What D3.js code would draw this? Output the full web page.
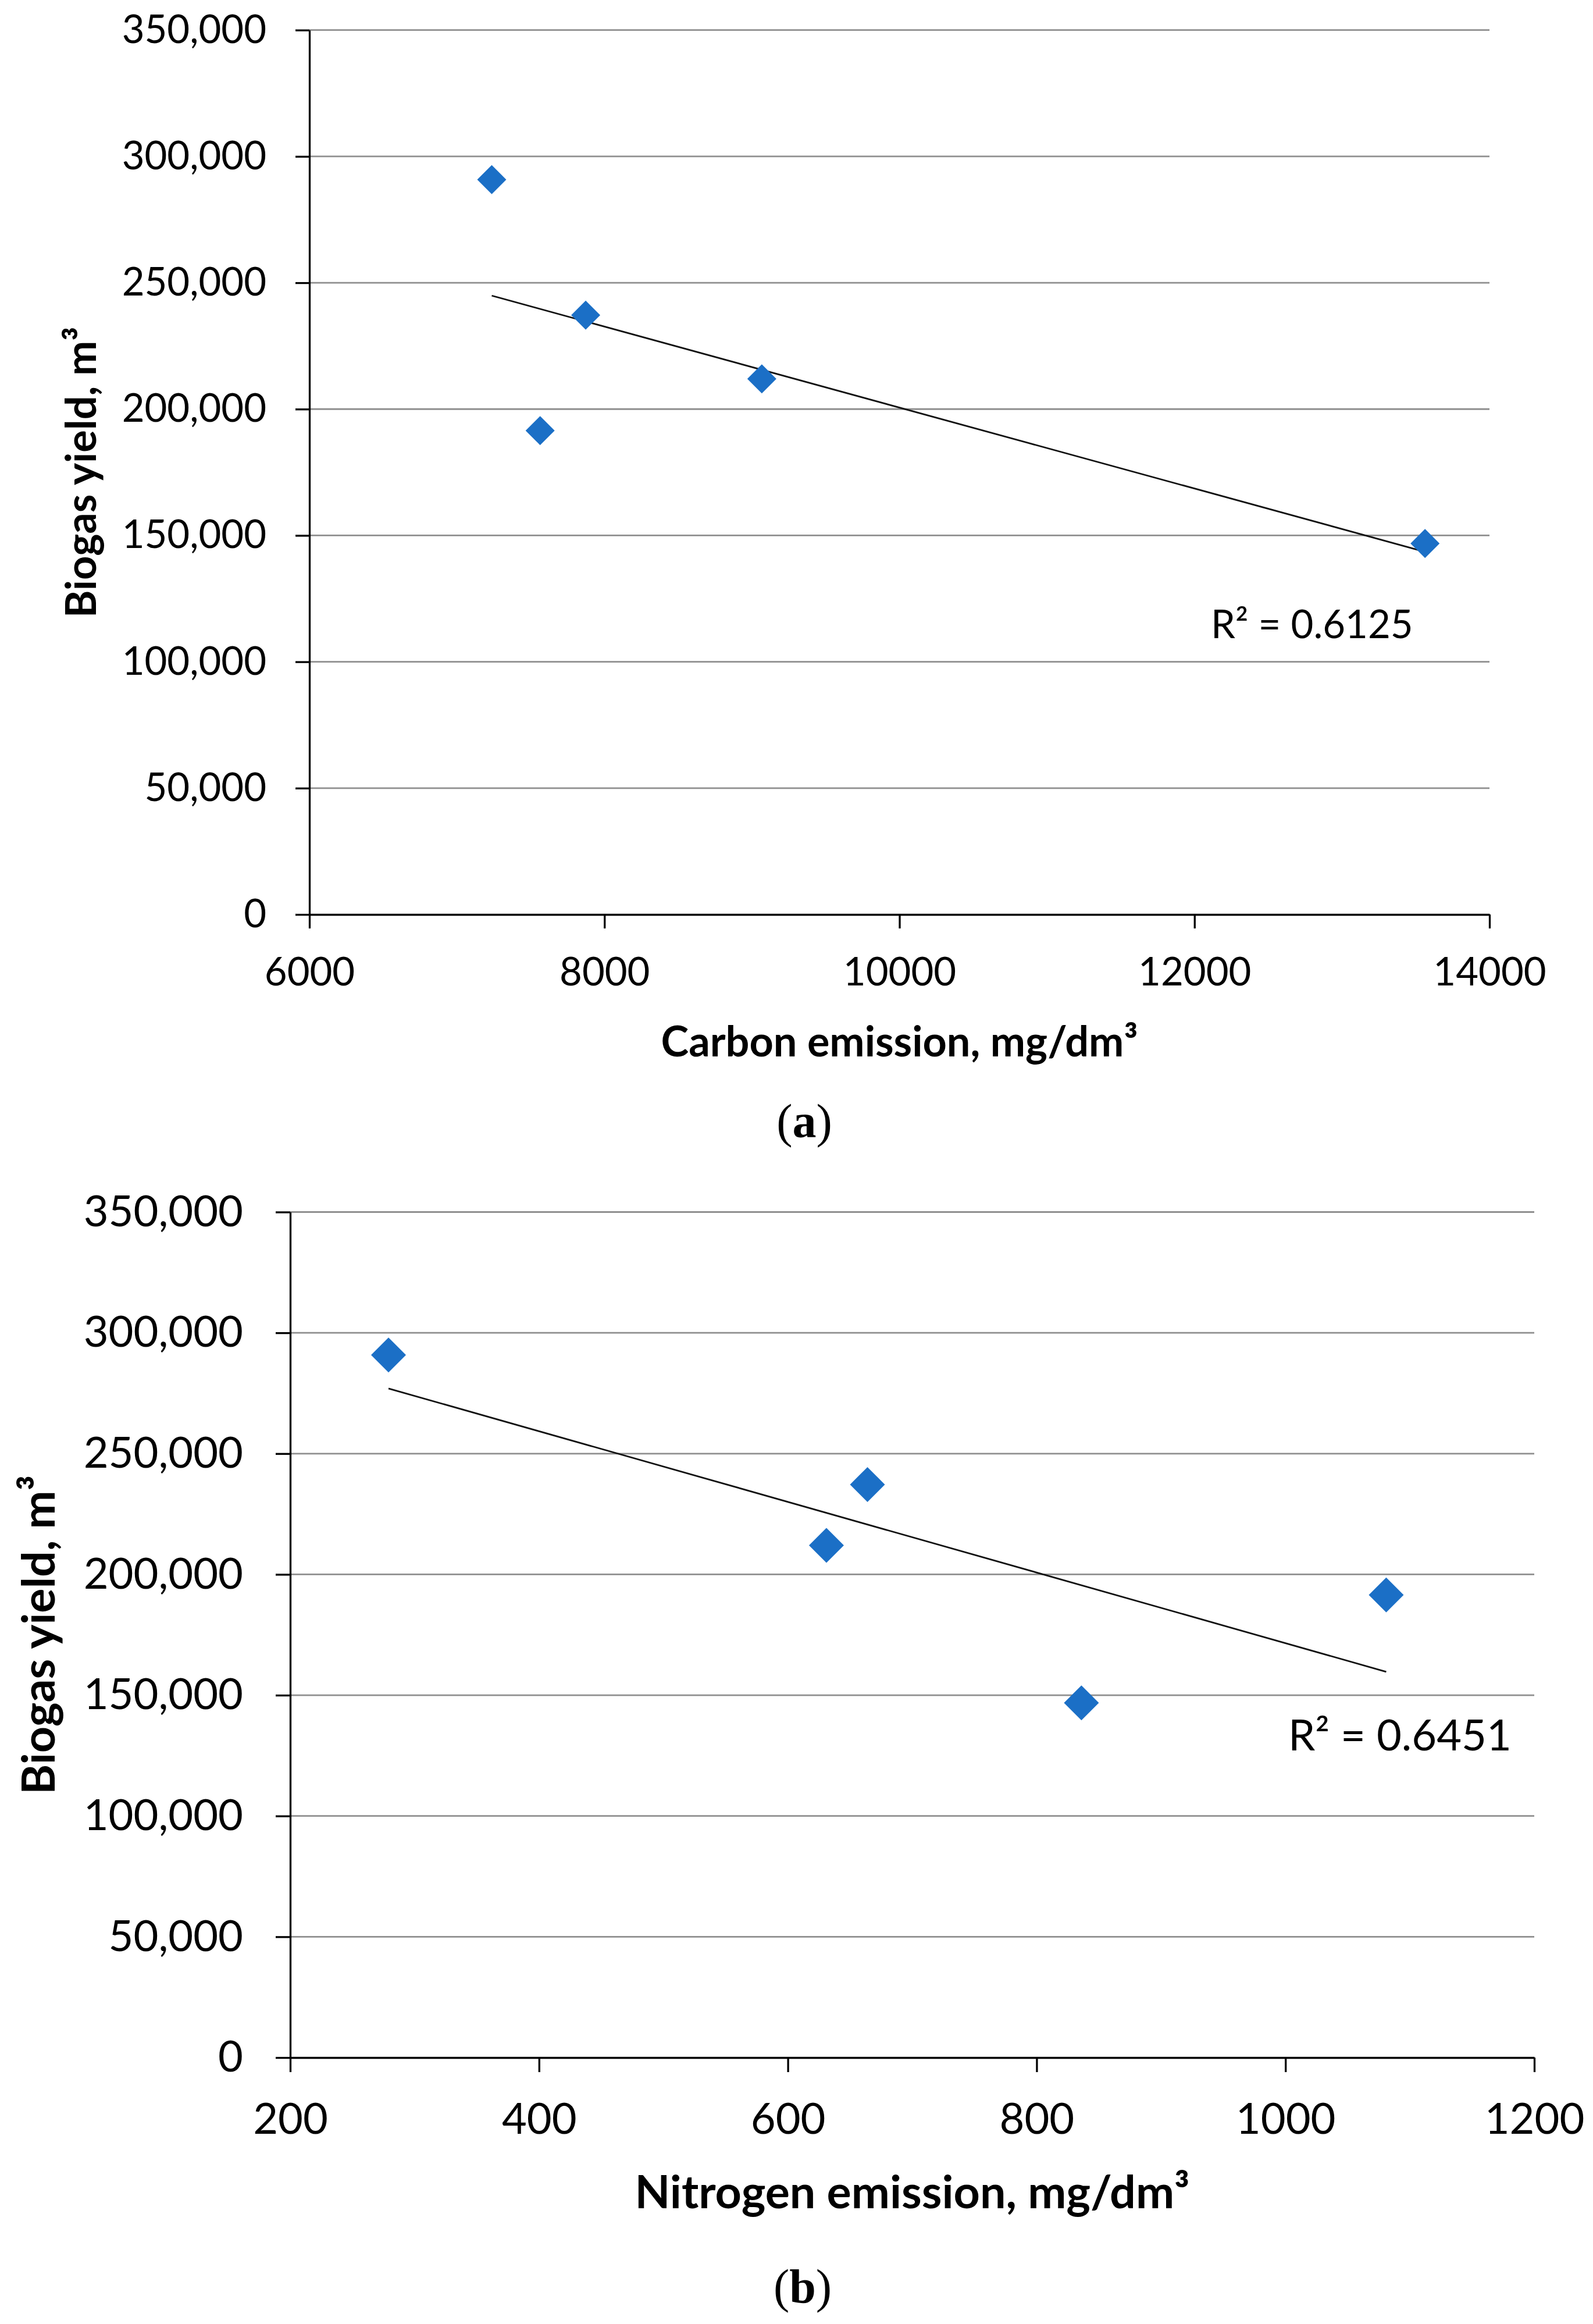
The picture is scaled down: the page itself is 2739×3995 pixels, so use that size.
<!DOCTYPE html>
<html>
<head>
<meta charset="utf-8">
<script src="https://cdn.jsdelivr.net/npm/d3@7"></script>
<style>
  body { margin: 0; background: #fff; }
  svg { display: block; }
</style>
</head>
<body>
<div id="chart"></div>
<script>
// values (same five samples in both panels)
const biogasYield = [290800, 191500, 237200, 212000, 146800];
const carbonEmission = [7236, 7564, 7873, 9067, 13563];
const nitrogenEmission = [279, 1081, 664, 631, 836];

const yTicks = [0, 50000, 100000, 150000, 200000, 250000, 300000, 350000];
const carbonTicks = [6000, 8000, 10000, 12000, 14000];
const nitrogenTicks = [200, 400, 600, 800, 1000, 1200];

const yTitle = "Biogas yield, m³";
const xTitles = ["Carbon emission, mg/dm³", "Nitrogen emission, mg/dm³"];
const r2Labels = ["R² = 0.6125", "R² = 0.6451"];
const captions = ["a", "b"];

const width = 2739;
const height = 3995;
const blue = "#1b6fc6";
const grid = "#8f8f8f";

const svg = d3.select("#chart").append("svg")
  .attr("width", width)
  .attr("height", height);

function fit(xs, ys) {
  const mx = d3.mean(xs), my = d3.mean(ys);
  let sxy = 0, sxx = 0;
  xs.forEach((x, i) => {
    sxy += (x - mx) * (ys[i] - my);
    sxx += (x - mx) * (x - mx);
  });
  const slope = sxy / sxx;
  return x => my + slope * (x - mx);
}

function panel(p) {
  const g = svg.append("g");
  const x = d3.scaleLinear().domain(d3.extent(p.xTicks)).range([p.left, p.right]);
  const y = d3.scaleLinear().domain([0, 350000]).range([p.bottom, p.top]);

  // gridlines
  g.append("g").selectAll("line")
    .data(yTicks.filter(d => d > 0))
    .join("line")
    .attr("x1", p.left).attr("x2", p.right)
    .attr("y1", d => y(d)).attr("y2", d => y(d))
    .attr("stroke", grid)
    .attr("stroke-width", 2.8);

  const yAxis = g.append("g")
    .attr("transform", `translate(${p.left},0)`)
    .call(d3.axisLeft(y).tickValues(yTicks).tickFormat(d3.format(","))
      .tickSize(p.tick).tickPadding(p.yPad).tickSizeOuter(0));

  const xAxis = g.append("g")
    .attr("transform", `translate(0,${p.bottom})`)
    .call(d3.axisBottom(x).tickValues(p.xTicks).tickFormat(d3.format("d"))
      .tickSize(p.tick).tickPadding(p.xPad).tickSizeOuter(0));

  [yAxis, xAxis].forEach(a => {
    a.select(".domain").attr("stroke", "#000").attr("stroke-width", 3.3);
    a.selectAll(".tick line").attr("stroke", "#000").attr("stroke-width", 3.3);
    a.selectAll("text")
      .attr("fill", "#000")
      .style("font-family", "Lato, sans-serif")
      .style("font-size", p.fs + "px");
  });

  // trendline
  const f = fit(p.xs, biogasYield);
  const ext = d3.extent(p.xs);
  g.append("path")
    .datum(ext)
    .attr("d", d3.line().x(d => x(d)).y(d => y(f(d))))
    .attr("stroke", "#111")
    .attr("stroke-width", 2.8)
    .attr("fill", "none");

  // points
  g.append("g").selectAll("path")
    .data(p.xs.map((v, i) => [v, biogasYield[i]]))
    .join("path")
    .attr("transform", d => `translate(${x(d[0])},${y(d[1])}) rotate(45)`)
    .attr("d", d3.symbol(d3.symbolSquare, p.sym))
    .attr("fill", blue);

  g.append("text")
    .attr("x", p.r2x).attr("y", p.r2y)
    .style("font-family", "Lato, sans-serif")
    .style("font-size", p.fs + "px")
    .text(p.r2);

  g.append("text")
    .attr("x", (p.left + p.right) / 2).attr("y", p.xTitleY)
    .attr("text-anchor", "middle")
    .style("font-family", "Lato, sans-serif")
    .style("font-weight", "bold")
    .style("font-size", p.tfs + "px")
    .text(p.xTitle);

  g.append("text")
    .attr("transform", `translate(${p.yTitleX},${(p.top + p.bottom) / 2}) rotate(-90)`)
    .attr("text-anchor", "middle")
    .style("font-family", "Lato, sans-serif")
    .style("font-weight", "bold")
    .style("font-size", p.tfs + "px")
    .text(yTitle);

  const cap = g.append("text")
    .attr("x", p.capX).attr("y", p.capY)
    .attr("text-anchor", "middle")
    .style("font-family", "'Liberation Serif', serif")
    .style("font-size", "82px");
  cap.append("tspan").text("(");
  cap.append("tspan").style("font-weight", "bold").text(p.cap);
  cap.append("tspan").text(")");
}

panel({
  xs: carbonEmission, xTicks: carbonTicks, xTitle: xTitles[0], r2: r2Labels[0], cap: captions[0],
  left: 532, right: 2561, top: 51.7, bottom: 1572,
  tick: 24, yPad: 50, xPad: 50, fs: 67, tfs: 72, sym: 1250,
  r2x: 2082, r2y: 1097, xTitleY: 1816, yTitleX: 165, capX: 1383, capY: 1955
});

panel({
  xs: nitrogenEmission, xTicks: nitrogenTicks, xTitle: xTitles[1], r2: r2Labels[1], cap: captions[1],
  left: 499, right: 2638, top: 2083.5, bottom: 3537,
  tick: 25, yPad: 56, xPad: 53, fs: 74, tfs: 79, sym: 1800,
  r2x: 2215, r2y: 3009, xTitleY: 3796, yTitleX: 94, capX: 1380, capY: 3958
});
</script>
</body>
</html>
